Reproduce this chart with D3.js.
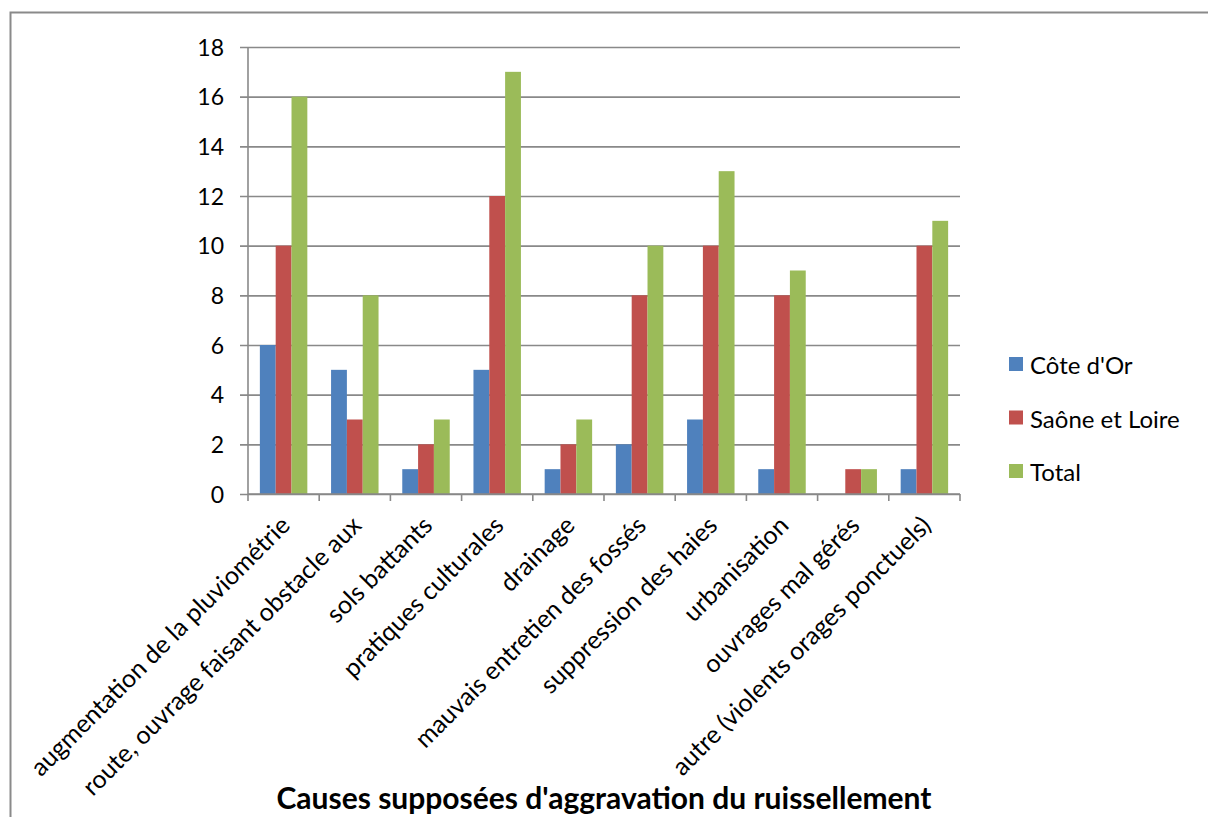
<!DOCTYPE html>
<html>
<head>
<meta charset="utf-8">
<script src="https://cdn.jsdelivr.net/npm/d3@7"></script>
<style>
  body { margin: 0; background: #fff; }
  svg { display: block; }
  text { font-family: Lato, "Noto Sans", sans-serif; fill: #000; }
</style>
</head>
<body>
<div id="chart"></div>
<script>
// data
var causes = [
  "augmentation de la pluviométrie",
  "route, ouvrage faisant obstacle aux",
  "sols battants",
  "pratiques culturales",
  "drainage",
  "mauvais entretien des fossés",
  "suppression des haies",
  "urbanisation",
  "ouvrages mal gérés",
  "autre (violents orages ponctuels)"
];
var series = ["Côte d'Or", "Saône et Loire", "Total"];
var coteDor = [6, 5, 1, 5, 1, 2, 3, 1, 0, 1];
var saoneLoire = [10, 3, 2, 12, 2, 8, 10, 8, 1, 10];
var total = [16, 8, 3, 17, 3, 10, 13, 9, 1, 11];
var yTicks = [0, 2, 4, 6, 8, 10, 12, 14, 16, 18];
var colors = ["#4f81bd", "#c0504d", "#9bbb59"];
var xTitle = "Causes supposées d'aggravation du ruissellement";

var W = 1208, H = 817;
var PLOT = {left: 248, right: 960, top: 47, bottom: 494};
var GRID = "#898989";

var svg = d3.select("#chart").append("svg")
  .attr("width", W)
  .attr("height", H);

// outer chart border (runs off the page right and bottom)
svg.append("rect")
  .attr("x", 10.5)
  .attr("y", 12.5)
  .attr("width", W + 20)
  .attr("height", H + 20)
  .style("fill", "none")
  .style("stroke", "#8a8a8a")
  .style("stroke-width", 2);

// scales
var x = d3.scaleBand().domain(causes).range([PLOT.left, PLOT.right]);
// Excel gap width 150% -> each bar = band / 4.5
var barW = x.bandwidth() / 4.5;
var xs = d3.scaleBand().domain(series).range([0, barW * 3]);
var y = d3.scaleLinear().domain([0, 18]).range([PLOT.bottom, PLOT.top]);

// gridlines + y ticks
var yAxis = svg.append("g")
  .attr("transform", "translate(" + PLOT.left + ",0)")
  .call(d3.axisLeft(y)
    .tickValues(yTicks)
    .tickSize(-(PLOT.right - PLOT.left))
    .tickPadding(24)
    .tickFormat(d3.format("d")));
yAxis.select(".domain").remove();
yAxis.selectAll(".tick line")
  .attr("x1", -8)
  .style("stroke", GRID)
  .style("stroke-width", 1.6);
yAxis.selectAll(".tick text")
  .style("font-size", "23px")
  .attr("dy", "0.36em");

// bars
var table = causes.map(function(c, i){
  return {cause: c, values: [coteDor[i], saoneLoire[i], total[i]]};
});
var groups = svg.append("g").selectAll("g")
  .data(table)
  .enter().append("g")
  .attr("transform", function(d){ return "translate(" + (x(d.cause) + barW * 0.75) + ",0)"; });

groups.selectAll("rect")
  .data(function(d){ return d.values.map(function(v, j){ return {s: series[j], v: v, j: j}; }); })
  .enter().append("rect")
  .attr("x", function(d){ return xs(d.s); })
  .attr("y", function(d){ return y(d.v); })
  .attr("width", xs.bandwidth())
  .attr("height", function(d){ return y(0) - y(d.v); })
  .style("fill", function(d){ return colors[d.j]; });

// y axis line
svg.append("line")
  .attr("x1", PLOT.left).attr("x2", PLOT.left)
  .attr("y1", PLOT.top).attr("y2", PLOT.bottom)
  .style("stroke", GRID)
  .style("stroke-width", 1.6);

// x axis with ticks at band edges
var xAxis = svg.append("g")
  .attr("transform", "translate(0," + PLOT.bottom + ")");
xAxis.append("line")
  .attr("x1", PLOT.left).attr("x2", PLOT.right)
  .style("stroke", GRID)
  .style("stroke-width", 1.6);
var edges = causes.map(function(c){ return x(c); }).concat([PLOT.right]);
xAxis.selectAll(".edge")
  .data(edges)
  .enter().append("line")
  .attr("class", "edge")
  .attr("x1", function(d){ return d; })
  .attr("x2", function(d){ return d; })
  .attr("y1", 0)
  .attr("y2", 7)
  .style("stroke", GRID)
  .style("stroke-width", 1.6);

// rotated category labels
xAxis.selectAll(".cat")
  .data(causes)
  .enter().append("text")
  .attr("class", "cat")
  .attr("text-anchor", "end")
  .attr("transform", function(d){
    return "translate(" + (x(d) + x.bandwidth() / 2 + 8) + ",33) rotate(-45)";
  })
  .style("font-size", "25px")
  .text(function(d){ return d; });

// axis title
svg.append("text")
  .attr("x", (PLOT.left + PLOT.right) / 2)
  .attr("y", 809)
  .attr("text-anchor", "middle")
  .style("font-size", "30px")
  .style("font-weight", "bold")
  .text(xTitle);

// legend
var legend = svg.append("g")
  .attr("transform", "translate(1009,357)");
var items = legend.selectAll("g")
  .data(series)
  .enter().append("g")
  .attr("transform", function(d, i){ return "translate(0," + (i * 53.5) + ")"; });
items.append("rect")
  .attr("width", 14)
  .attr("height", 14)
  .style("fill", function(d, i){ return colors[i]; });
items.append("text")
  .attr("x", 21)
  .attr("y", 17)
  .style("font-size", "24px")
  .text(function(d){ return d; });
</script>
</body>
</html>
